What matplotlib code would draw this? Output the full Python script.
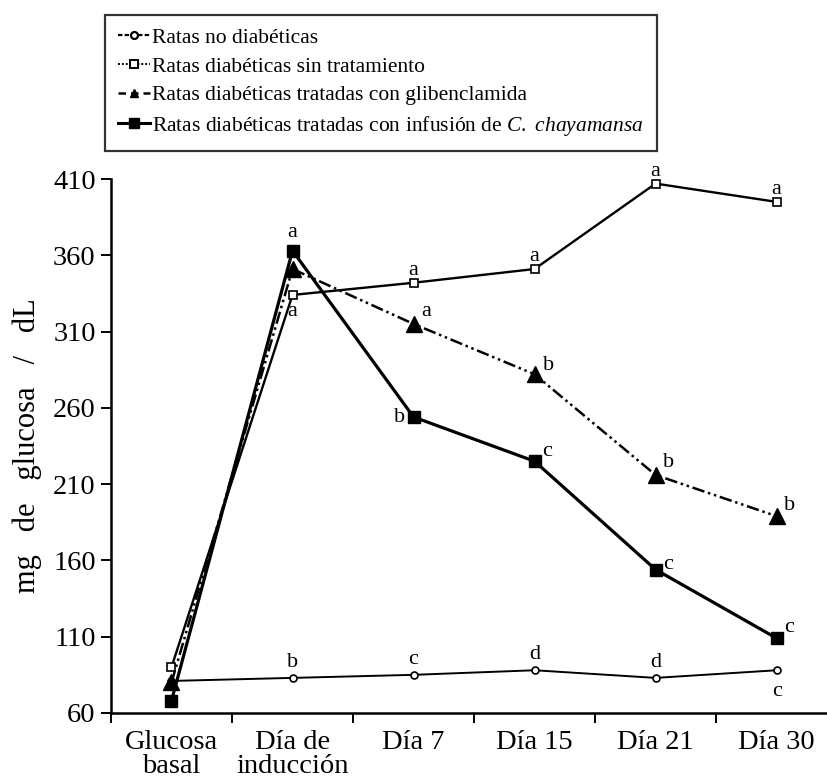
import matplotlib
matplotlib.use("Agg")
import matplotlib.pyplot as plt
from matplotlib.lines import Line2D
import numpy as np

plt.rcParams['font.family'] = ['Liberation Serif', 'DejaVu Serif']
plt.rcParams['mathtext.fontset'] = 'custom'
plt.rcParams['mathtext.it'] = 'Liberation Serif:italic'
plt.rcParams['mathtext.rm'] = 'Liberation Serif'

# data
categories = ["Glucosa\nbasal", "Día de\ninducción", "Día 7", "Día 15", "Día 21", "Día 30"]
no_diab = [81, 83, 85, 88, 83, 88]
sin_trat = [90, 334, 342, 351, 407, 395]
gliben = [80, 351, 315, 282, 216, 189]
chaya = [68, 363, 254, 225, 154, 109]

# significance letters
no_diab_let = ["", "b", "c", "d", "d", "c"]
sin_trat_let = ["", "a", "a", "a", "a", "a"]
gliben_let = ["", "", "a", "b", "b", "b"]
chaya_let = ["", "a", "b", "c", "c", "c"]

labels = ["Ratas no diabéticas",
          "Ratas diabéticas sin tratamiento",
          "Ratas diabéticas tratadas con glibenclamida",
          r"Ratas diabéticas tratadas con infusión de $\it{C.}$ $\it{chayamansa}$"]

yticks = [60, 110, 160, 210, 260, 310, 360, 410]

x = np.arange(len(categories))

fig = plt.figure(figsize=(8.27, 7.81), dpi=100)
ax = fig.add_axes([0.1342, 0.0871, 0.878, 0.6837])

dashdotdot = (0, (5, 1.5, 1, 1.5, 1, 1.5))

ax.plot(x, no_diab, '-', color='black', lw=1.4, marker='o', ms=5,
        mfc='white', mec='black', mew=1.2, clip_on=False, zorder=3)
ax.plot(x, sin_trat, '-', color='black', lw=1.7, marker='s', ms=6,
        mfc='white', mec='black', mew=1.2, clip_on=False, zorder=3)
ax.plot(x, gliben, linestyle=dashdotdot, color='black', lw=1.8, marker='^', ms=11,
        mfc='black', mec='black', clip_on=False, zorder=4)
ax.plot(x, chaya, '-', color='black', lw=2.3, marker='s', ms=8.5,
        mfc='black', mec='black', clip_on=False, zorder=5)

# letter annotations (offsets in points)
def letters(vals, lets, offs):
    for xi, v, t, o in zip(x, vals, lets, offs):
        if t:
            ax.annotate(t, (xi, v), xytext=o, textcoords='offset points',
                        ha='center', va='center', fontsize=16, color='black')

letters(no_diab, no_diab_let, [(0, 0), (0, 11), (0, 11), (0, 11), (0, 11), (0, -15)])
letters(sin_trat, sin_trat_let, [(0, 0), (0, -12), (0, 9), (0, 9), (0, 9), (0, 9)])
letters(gliben, gliben_let, [(0, 0), (0, 0), (9, 9), (10, 6), (9, 9), (9, 8)])
letters(chaya, chaya_let, [(0, 0), (0, 13), (-10, 0), (9, 7), (9, 4), (9, 8)])

ax.set_xlim(-0.5, 5.5)
ax.set_ylim(60, 410)
ax.set_yticks(yticks)
ax.set_xticks(x)
ax.set_xticklabels(categories, linespacing=0.95)
ax.set_xticks(np.arange(-0.5, 5.6, 1), minor=True)
ax.tick_params(axis='x', which='major', length=0, labelsize=20.5, pad=12)
ax.tick_params(axis='x', which='minor', length=7, width=1.4, direction='out')
ax.tick_params(axis='y', length=7, width=1.4, labelsize=20.5, pad=4)

for s in ['top', 'right']:
    ax.spines[s].set_visible(False)
for s in ['left', 'bottom']:
    ax.spines[s].set_linewidth(1.8)

ax.set_ylabel("mg   de   glucosa   /   dL", fontsize=22, labelpad=8)

handles = [
    Line2D([], [], color='black', ls=(0, (2, 1)), lw=1.6, marker='o', ms=5,
           mfc='white', mew=1.6),
    Line2D([], [], color='black', ls=(0, (1, 1)), lw=1.4, marker='s', ms=6,
           mfc='white', mew=1.4),
    Line2D([], [], color='black', ls=(0, (3, 2)), lw=1.8, marker='^', ms=6,
           mfc='black'),
    Line2D([], [], color='black', ls='-', lw=2.2, marker='s', ms=7, mfc='black'),
]
leg = fig.legend(handles, labels, loc='upper left', bbox_to_anchor=(0.127, 0.981),
                 fontsize=15.5, frameon=True, fancybox=False, edgecolor='black',
                 handlelength=1.5, handletextpad=0.1, borderpad=0.6,
                 labelspacing=0.4, borderaxespad=0)
leg.get_frame().set_linewidth(1.6)

fig.savefig("out.png", dpi=100)
